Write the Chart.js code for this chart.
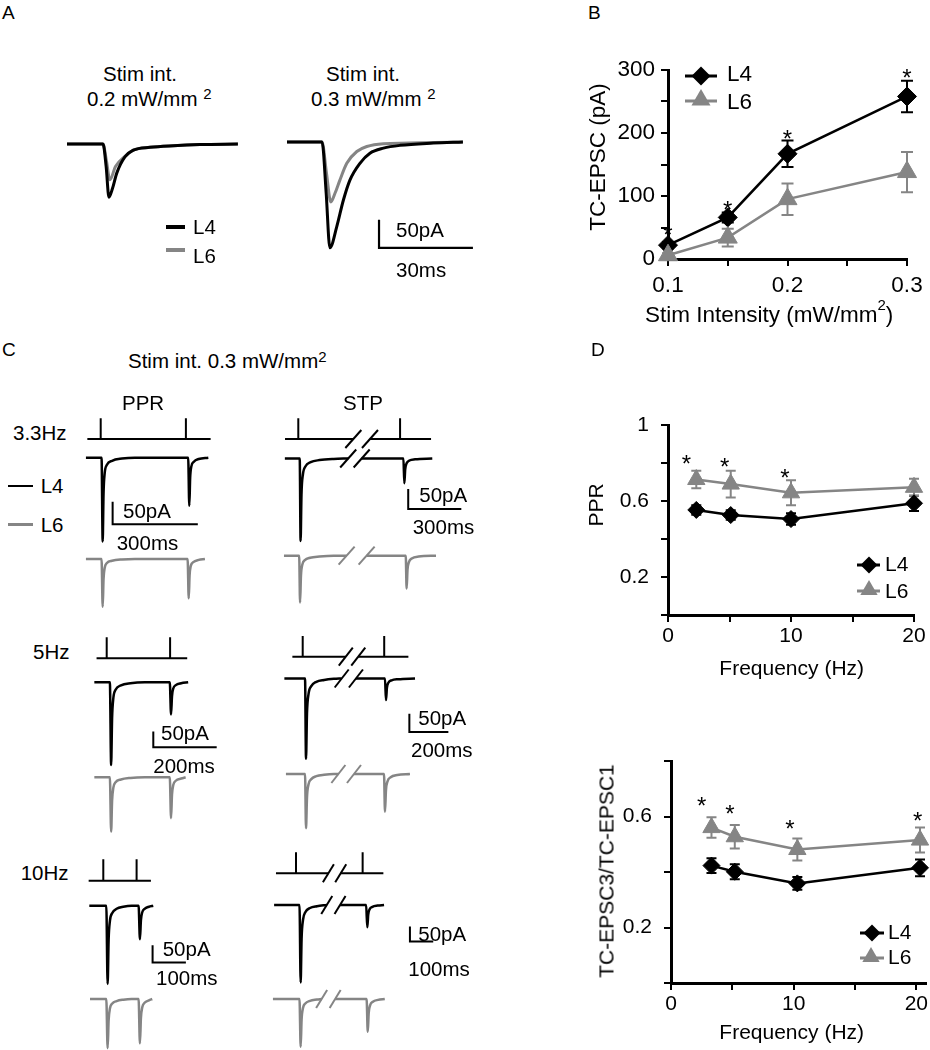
<!DOCTYPE html>
<html lang="en">
<head>
<meta charset="UTF-8">
<title>TC-EPSC in L4 and L6</title>
<script src="https://cdn.jsdelivr.net/npm/chart.js"></script>
<style>
  * { margin: 0; padding: 0; box-sizing: border-box; }
  body { background: #fff; font-family: 'Liberation Sans', Arial, sans-serif; color: #000; }
  #fig { position: relative; width: 930px; height: 1050px; overflow: hidden; background: #fff; }
  #fig canvas { position: absolute; }
  .t { position: absolute; font-size: 20.5px; line-height: 1; white-space: nowrap; transform: translateY(-50%); }
  .t.c { transform: translate(-50%, -50%); }
  .t.r { transform: translate(-50%, -50%) rotate(-90deg); }
  .sup { font-size: 15px; position: relative; }
  .key { position: absolute; }
</style>
</head>
<body>
<div id="fig"></div>
<script>
// ---- Panel B: TC-EPSC amplitude vs stimulation intensity ----
const stimIntensity = [0.1, 0.15, 0.2, 0.3];
const epscL4 = [22, 66, 167, 258];
const epscL4Err = [5, 8, 21, 25];
const epscL6 = [6, 34, 95, 138];
const epscL6Err = [3, 14, 25, 32];
const epscStars = [[0.1, 47], [0.15, 87], [0.2, 200], [0.3, 296]];
const intensityTicks = [0.1, 0.15, 0.2, 0.25, 0.3];
const intensityLabels = [0.1, 0.2, 0.3];
const epscTicks = [0, 50, 100, 150, 200, 250, 300];
const epscLabels = [0, 100, 200, 300];

// ---- Panel D: PPR and EPSC3/EPSC1 vs frequency ----
const pprFreq = [2.3, 5.1, 10, 20];
const pprL4 = [0.553, 0.526, 0.505, 0.588];
const pprL4Err = [0.025, 0.025, 0.03, 0.04];
const pprL6 = [0.713, 0.689, 0.643, 0.672];
const pprL6Err = [0.046, 0.07, 0.066, 0.045];
const pprStars = [[1.5, 0.826], [4.6, 0.81], [9.5, 0.749]];
const stpFreq = [3.3, 5.2, 10.3, 20.3];
const stpL4 = [0.423, 0.401, 0.359, 0.415];
const stpL4Err = [0.027, 0.027, 0.023, 0.03];
const stpL6 = [0.56, 0.527, 0.481, 0.515];
const stpL6Err = [0.037, 0.042, 0.04, 0.045];
const stpStars = [[2.5, 0.659], [4.8, 0.631], [9.7, 0.575], [20.1, 0.605]];
const freqTicks = [0, 5, 10, 15, 20];
const freqLabels = [0, 10, 20];
const pprTicks = [0, 0.2, 0.4, 0.6, 0.8, 1];
const pprLabels = [0.2, 0.6, 1];
const stpTicks = [0, 0.2, 0.4, 0.6, 0.8];
const stpLabels = [0.2, 0.6];

// ---- Panel A: example EPSCs, [ms, pA] ----
const a02L4 = [[0,0],[11.5,0],[12.5,-40],[13.4,-95],[14.5,-80],[15.9,-52],[18.5,-23],[21.2,-11],[26.5,-6],[34,-3],[42.5,-1],[54.6,0]];
const a02L6 = [[0,0],[11.5,0],[12.6,-30],[13.7,-64],[15.5,-40],[18.5,-22],[21.2,-11],[26.5,-6],[34,-3],[42.5,-1],[54.6,0]];
const a03L4 = [[0,0],[11.2,0],[12.5,-90],[13.7,-189],[15.9,-151],[18,-104],[20.1,-68],[23.3,-38],[26.5,-20],[30.8,-11],[36.1,-6],[46.8,-2],[56.2,0]];
const a03L6 = [[0,0],[11.2,0],[12.6,-55],[14,-107],[15.3,-92],[16.9,-68],[19.1,-38],[22.3,-17],[25.5,-8],[30.8,-3],[46.8,-1],[56.2,0]];

// ---- Panel C: trains, [ms, pA], one array per unbroken piece ----
const c33PprL4 = [[[-52,0],[3,0],[7,-188],[10,-80],[14,-35],[22,-16],[40,-7],[75,-2],[120,0],[308,0],[312,-108],[315,-45],[319,-20],[328,-9],[345,-3],[379,0]]];
const c33PprL6 = [[[-52,0],[3,0],[7,-107],[10,-45],[14,-20],[22,-9],[40,-4],[75,-1],[120,0],[306,0],[310,-88],[313,-37],[317,-16],[326,-7],[345,-2],[367,0]]];
const c33StpL4 = [[[-76,0],[8,0],[13,-206],[18,-90],[26,-40],[40,-20],[70,-9],[120,-4],[200,-1],[282,0]], [[358,0],[594,0],[599,-62],[604,-27],[612,-12],[628,-5],[660,-2],[757,0]]];
const c33StpL6 = [[[-81,0],[5,0],[10,-117],[15,-50],[23,-22],[37,-11],[67,-5],[120,-2],[200,0],[273,0]], [[386,0],[607,0],[612,-82],[617,-35],[625,-16],[641,-7],[680,-2],[778,0]]];
const c5PprL4 = [[[-39,0],[10,0],[14,-265],[17,-115],[21,-50],[28,-24],[45,-10],[75,-3],[120,0],[199,0],[203,-103],[206,-44],[210,-20],[218,-9],[235,-3],[257,0]]];
const c5PprL6 = [[[-39,0],[10,0],[14,-174],[17,-75],[21,-33],[28,-16],[45,-7],[75,-2],[120,0],[199,0],[203,-131],[206,-56],[210,-25],[218,-11],[235,-4],[249,0]]];
const c5StpL4 = [[[-94,0],[12,0],[17,-219],[22,-95],[30,-42],[44,-21],[70,-9],[110,-4],[160,-1],[200,0]], [[273,0],[422,0],[427,-59],[432,-25],[440,-11],[456,-5],[490,-2],[576,0]]];
const c5StpL6 = [[[-86,0],[12,0],[17,-148],[22,-64],[30,-28],[44,-14],[70,-6],[110,-2],[160,0],[183,0]], [[263,0],[417,0],[422,-103],[427,-44],[435,-20],[451,-9],[485,-3],[550,0]]];
const c10PprL4 = [[[-42,0],[9,0],[13,-226],[16,-98],[20,-43],[27,-21],[40,-9],[60,-3],[85,0],[106,0],[110,-97],[113,-42],[117,-19],[124,-9],[137,-3],[150,0]]];
const c10PprL6 = [[[-40,0],[9,0],[13,-142],[16,-61],[20,-27],[27,-13],[40,-6],[60,-2],[85,0],[106,0],[110,-128],[113,-55],[117,-24],[124,-11],[137,-4],[147,0]]];
const c10StpL4 = [[[-94,0],[15,0],[20,-258],[24,-112],[30,-50],[40,-24],[60,-10],[90,-4],[132,0]], [[189,0],[301,0],[306,-74],[310,-32],[316,-14],[328,-6],[350,-2],[378,0]]];
const c10StpL6 = [[[-99,0],[15,0],[20,-159],[24,-69],[30,-30],[40,-15],[60,-6],[90,-2],[110,0]], [[168,0],[303,0],[308,-109],[312,-47],[318,-21],[330,-9],[352,-3],[381,0]]];

// light pulses (ms) and the stretches of the stim line that are drawn
const c33PprPulses = [0, 300], c33PprSpan = [[-47, 387]];
const c33StpPulses = [0, 575], c33StpSpan = [[-75, 311], [405, 750]];
const c5PprPulses = [0, 200], c5PprSpan = [[-32, 254]];
const c5StpPulses = [0, 418], c5StpSpan = [[-53, 221], [285, 542]];
const c10PprPulses = [0, 100], c10PprSpan = [[-44, 143]];
const c10StpPulses = [0, 286], c10StpSpan = [[-86, 139], [192, 375]];

// scale bars
const barPA = 50;
const aBarMs = 30;
const cBarMs = [300, 200, 100];

const INK = '#000';
const GREY = '#858585';
const FONT = "'Liberation Sans', Arial, sans-serif";

Chart.defaults.font.family = FONT;
Chart.defaults.color = INK;
Chart.defaults.animation = false;
Chart.defaults.responsive = false;
Chart.defaults.plugins.legend.display = false;
Chart.defaults.plugins.tooltip.enabled = false;

const fig = document.getElementById('fig');

function addCanvas(box) {
  const c = document.createElement('canvas');
  c.width = box[2];
  c.height = box[3];
  c.style.left = box[0] + 'px';
  c.style.top = box[1] + 'px';
  fig.appendChild(c);
  return c;
}

function addText(html, x, cy, cls, size) {
  const d = document.createElement('div');
  d.className = 't' + (cls ? ' ' + cls : '');
  d.innerHTML = html;
  d.style.left = x + 'px';
  d.style.top = cy + 'px';
  if (size) d.style.fontSize = size + 'px';
  fig.appendChild(d);
}

function addKey(color, x, y, w, h) {
  const d = document.createElement('div');
  d.className = 'key';
  Object.assign(d.style, { left: x + 'px', top: (y - h / 2) + 'px', width: w + 'px', height: h + 'px', background: color });
  fig.appendChild(d);
}

function drawMarker(ctx, style, x, y, r) {
  ctx.beginPath();
  if (style === 'rectRot') {
    ctx.moveTo(x, y - r); ctx.lineTo(x + r, y); ctx.lineTo(x, y + r); ctx.lineTo(x - r, y);
  } else {
    ctx.moveTo(x, y - r); ctx.lineTo(x + r * 0.866, y + r * 0.5); ctx.lineTo(x - r * 0.866, y + r * 0.5);
  }
  ctx.closePath();
  ctx.fill();
}

// error bars, significance stars and the inset legend
const markPlugin = {
  id: 'marks',
  beforeDatasetsDraw(chart, args, o) {
    const { ctx, scales: { x, y } } = chart;
    chart.data.datasets.forEach(ds => {
      ctx.save();
      ctx.strokeStyle = ds.borderColor;
      ctx.lineWidth = 2;
      ds.data.forEach((p, i) => {
        const px = x.getPixelForValue(p.x);
        const hi = y.getPixelForValue(p.y + ds.err[i]);
        const lo = y.getPixelForValue(p.y - ds.err[i]);
        ctx.beginPath();
        ctx.moveTo(px, hi); ctx.lineTo(px, lo);
        ctx.moveTo(px - o.cap, hi); ctx.lineTo(px + o.cap, hi);
        ctx.moveTo(px - o.cap, lo); ctx.lineTo(px + o.cap, lo);
        ctx.stroke();
      });
      ctx.restore();
    });
  },
  afterDatasetsDraw(chart, args, o) {
    const { ctx, scales: { x, y } } = chart;
    ctx.save();
    ctx.fillStyle = INK;
    ctx.textAlign = 'center';
    ctx.textBaseline = 'alphabetic';
    ctx.font = o.starSize + 'px ' + FONT;
    o.stars.forEach(([sx, sy]) => {
      ctx.fillText('*', x.getPixelForValue(sx), y.getPixelForValue(sy) + 0.57 * o.starSize);
    });
    o.legend.forEach(k => {
      const ds = chart.data.datasets[k.ds];
      ctx.strokeStyle = ds.borderColor;
      ctx.fillStyle = ds.borderColor;
      ctx.lineWidth = 3;
      ctx.beginPath();
      ctx.moveTo(k.x0, k.ly); ctx.lineTo(k.x1, k.ly);
      ctx.stroke();
      drawMarker(ctx, ds.pointStyle, k.mx, k.my, k.r);
      ctx.fillStyle = INK;
      ctx.textAlign = 'left';
      ctx.textBaseline = 'middle';
      ctx.font = o.fs + 'px ' + FONT;
      ctx.fillText(k.text, k.tx, k.ty);
    });
    ctx.restore();
  }
};

function errChart(box, area, o) {
  const [bl, bt, bw, bh] = box;
  const axis = (ticks, labels, range, pad, fit) => ({
    type: 'linear', min: range[0], max: range[1],
    afterBuildTicks: s => { s.ticks = ticks.map(v => ({ value: v })); },
    afterFit: fit,
    ticks: {
      autoSkip: false, maxRotation: 0, padding: pad, color: INK, font: { size: o.fs },
      callback: v => labels.includes(v) ? String(v) : ''
    },
    grid: { drawOnChartArea: false, tickLength: 7, color: INK, lineWidth: 2 },
    border: { color: INK, width: 3 }
  });
  const datasets = o.series.map(s => ({
    data: o.x.map((xv, i) => ({ x: xv, y: s.y[i] })),
    err: s.err, order: s.order,
    showLine: true, clip: false,
    borderColor: s.color, borderWidth: 2.5,
    pointStyle: s.marker, pointRadius: s.r, pointHoverRadius: s.r,
    pointBackgroundColor: s.color, pointBorderColor: s.color, pointBorderWidth: 1
  }));
  // legend positions are given on the page; convert to canvas coordinates
  const legend = o.legend.map(k => ({
    ds: k.ds, text: k.text, r: k.r,
    x0: k.line[0] - bl, x1: k.line[1] - bl, ly: k.line[2] - bt,
    mx: k.mark[0] - bl, my: k.mark[1] - bt,
    tx: k.label[0] - bl, ty: k.label[1] - bt
  }));
  return new Chart(addCanvas(box), {
    type: 'scatter',
    data: { datasets },
    options: {
      layout: { autoPadding: false, padding: { left: 0, top: area[1] - bt, right: bl + bw - area[2], bottom: 0 } },
      scales: {
        x: axis(o.xTicks, o.xLabels, o.xRange, o.xPad, s => { s.height = bt + bh - area[3]; }),
        y: axis(o.yTicks, o.yLabels, o.yRange, o.yPad, s => { s.width = area[0] - bl; })
      },
      plugins: { marks: { stars: o.stars, legend, cap: o.cap, fs: o.fs, starSize: o.starSize } }
    },
    plugins: [markPlugin]
  });
}

// break marks "//" where a trace or stim line is interrupted
const slashPlugin = {
  id: 'slashes',
  afterDatasetsDraw(chart, args, o) {
    const ctx = chart.ctx;
    const x = chart.scales.x;
    chart.data.datasets.forEach(ds => {
      if (!ds.breaks) return;
      const y = chart.scales[ds.yAxisID];
      ctx.save();
      ctx.strokeStyle = ds.borderColor;
      ctx.lineWidth = 2;
      ds.breaks.forEach(t => {
        const px = x.getPixelForValue(t), py = y.getPixelForValue(0);
        ctx.beginPath();
        ctx.moveTo(px - o.dx, py + o.dy);
        ctx.lineTo(px + o.dx, py - o.dy);
        ctx.stroke();
      });
      ctx.restore();
    });
  }
};

function toPoints(segs) {
  const out = [];
  segs.forEach((seg, i) => {
    if (i > 0) out.push({ x: (segs[i - 1][segs[i - 1].length - 1][0] + seg[0][0]) / 2, y: null });
    seg.forEach(p => out.push({ x: p[0], y: p[1] }));
  });
  return out;
}

function breakTimes(segs) {
  const b = [];
  for (let i = 1; i < segs.length; i++) b.push(segs[i - 1][segs[i - 1].length - 1][0], segs[i][0][0]);
  return b;
}

function stimSegs(pulses, span) {
  return span.map(([a, b]) => {
    const pts = [[a, 0]];
    pulses.filter(p => p > a && p < b).forEach(p => pts.push([p, 0], [p, 1], [p, 0]));
    pts.push([b, 0]);
    return pts;
  });
}

function scaleBar(corner, pA, ms) {
  return [[[corner[0], corner[1] + pA], corner, [corner[0] + ms, corner[1]]]];
}

// lay: box on the page, t0 = page x of t=0, kx = px per ms, y axes as [page y of 0, px per unit]
function traceChart(lay, sets, slash) {
  const [bl, bt, bw, bh] = lay.box;
  const scales = { x: { type: 'linear', display: false, min: (bl - lay.t0) / lay.kx, max: (bl + bw - lay.t0) / lay.kx } };
  Object.entries(lay.y).forEach(([id, [y0, k]]) => {
    const max = (y0 - bt) / k;
    scales[id] = { type: 'linear', display: false, min: max - bh / k, max };
  });
  const datasets = sets.map(s => ({
    data: toPoints(s.segs),
    breaks: s.segs.length > 1 ? breakTimes(s.segs) : null,
    yAxisID: s.axis, borderColor: s.color, borderWidth: s.width,
    showLine: true, pointRadius: 0, pointHoverRadius: 0, spanGaps: false, clip: false,
    cubicInterpolationMode: s.smooth ? 'monotone' : 'default', tension: 0
  }));
  return new Chart(addCanvas(lay.box), {
    type: 'scatter',
    data: { datasets },
    options: {
      layout: { autoPadding: false, padding: 0 },
      scales,
      plugins: { slashes: { dx: slash[0], dy: slash[1] } }
    },
    plugins: [slashPlugin]
  });
}

// ---------------- Panel A ----------------
traceChart({ box: [60, 118, 190, 100], t0: 67, kx: 3.13, y: { y: [144, 0.56] } }, [
  { segs: [a02L4], axis: 'y', color: INK, width: 3, smooth: true },
  { segs: [a02L6], axis: 'y', color: GREY, width: 3, smooth: true }
], [0, 0]);
traceChart({ box: [280, 118, 200, 142], t0: 287, kx: 3.13, y: { y: [142, 0.56] } }, [
  { segs: [a03L4], axis: 'y', color: INK, width: 3, smooth: true },
  { segs: [a03L6], axis: 'y', color: GREY, width: 3, smooth: true },
  { segs: scaleBar([29.4, -189], barPA, aBarMs), axis: 'y', color: INK, width: 2.2 }
], [0, 0]);

// ---------------- Panel C ----------------
const cells = [
  { l4: c33PprL4, l6: c33PprL6, pulses: c33PprPulses, span: c33PprSpan, ms: cBarMs[0],
    lay: { box: [80, 410, 142, 204], t0: 100.7, kx: 0.284, y: { stim: [439, 20.7], l4: [457.7, 0.446], l6: [559, 0.446] } }, bar: [42, -149], slash: [8, 9] },
  { l4: c33StpL4, l6: c33StpL6, pulses: c33StpPulses, span: c33StpSpan, ms: cBarMs[0],
    lay: { box: [278, 410, 196, 204], t0: 298.3, kx: 0.177, y: { stim: [439, 20.7], l4: [458.5, 0.4], l6: [555.7, 0.4] } }, bar: [621, -126], slash: [8, 9] },
  { l4: c5PprL4, l6: c5PprL6, pulses: c5PprPulses, span: c5PprSpan, ms: cBarMs[1],
    lay: { box: [88, 628, 136, 210], t0: 106.7, kx: 0.317, y: { stim: [658.3, 21], l4: [682.3, 0.312], l6: [777.3, 0.312] } }, bar: [147, -208], slash: [7, 9] },
  { l4: c5StpL4, l6: c5StpL6, pulses: c5StpPulses, span: c5StpSpan, ms: cBarMs[1],
    lay: { box: [278, 628, 176, 210], t0: 302.7, kx: 0.195, y: { stim: [656.7, 20.7], l4: [678.5, 0.366], l6: [774, 0.366] } }, bar: [547, -146], slash: [7, 9] },
  { l4: c10PprL4, l6: c10PprL6, pulses: c10PprPulses, span: c10PprSpan, ms: cBarMs[2],
    lay: { box: [82, 846, 110, 204], t0: 103.3, kx: 0.333, y: { stim: [880.7, 21.4], l4: [905.7, 0.346], l6: [999, 0.346] } }, bar: [148, -164], slash: [5.5, 9] },
  { l4: c10StpL4, l6: c10StpL6, pulses: c10StpPulses, span: c10StpSpan, ms: cBarMs[2],
    lay: { box: [265, 843, 180, 207], t0: 296, kx: 0.233, y: { stim: [873.3, 21], l4: [905, 0.3], l6: [999, 0.3] } }, bar: [489, -122], slash: [5.5, 9] }
];
cells.forEach(c => {
  traceChart(c.lay, [
    { segs: stimSegs(c.pulses, c.span), axis: 'stim', color: INK, width: 2 },
    { segs: c.l4, axis: 'l4', color: INK, width: 2.5, smooth: true },
    { segs: c.l6, axis: 'l6', color: GREY, width: 2.5, smooth: true },
    { segs: scaleBar(c.bar, barPA, c.ms), axis: 'l4', color: INK, width: 2 }
  ], c.slash);
});

// ---------------- Panel B ----------------
errChart([560, 40, 370, 305], [668, 70, 907, 259], {
  x: stimIntensity, xRange: [0.1, 0.3], xTicks: intensityTicks, xLabels: intensityLabels, xPad: 6,
  yRange: [0, 300], yTicks: epscTicks, yLabels: epscLabels, yPad: 6,
  fs: 22.5, cap: 6, starSize: 24, stars: epscStars,
  series: [
    { y: epscL4, err: epscL4Err, color: INK, marker: 'rectRot', r: 9.5, order: 1 },
    { y: epscL6, err: epscL6Err, color: GREY, marker: 'triangle', r: 11, order: 0 }
  ],
  legend: [
    { ds: 0, text: 'L4', r: 9.5, line: [685, 717, 76], mark: [701, 76], label: [727, 75] },
    { ds: 1, text: 'L6', r: 11, line: [685, 717, 101], mark: [701, 100], label: [727, 103] }
  ]
});

// ---------------- Panel D ----------------
errChart([560, 395, 370, 300], [668, 425, 914, 615], {
  x: pprFreq, xRange: [0, 20], xTicks: freqTicks, xLabels: freqLabels, xPad: 2,
  yRange: [0, 1], yTicks: pprTicks, yLabels: pprLabels, yPad: 12,
  fs: 21, cap: 5, starSize: 24, stars: pprStars,
  series: [
    { y: pprL4, err: pprL4Err, color: INK, marker: 'rectRot', r: 8.5, order: 1 },
    { y: pprL6, err: pprL6Err, color: GREY, marker: 'triangle', r: 10, order: 0 }
  ],
  legend: [
    { ds: 0, text: 'L4', r: 8.5, line: [857, 880, 565], mark: [869, 565], label: [885, 565] },
    { ds: 1, text: 'L6', r: 10, line: [857, 880, 591], mark: [869, 590], label: [885, 592] }
  ]
});
errChart([560, 730, 370, 320], [671, 761, 930, 983], {
  x: stpFreq, xRange: [0, 20.8], xTicks: freqTicks, xLabels: freqLabels, xPad: 2,
  yRange: [0, 0.8], yTicks: stpTicks, yLabels: stpLabels, yPad: 12,
  fs: 21, cap: 5, starSize: 24, stars: stpStars,
  series: [
    { y: stpL4, err: stpL4Err, color: INK, marker: 'rectRot', r: 8.5, order: 1 },
    { y: stpL6, err: stpL6Err, color: GREY, marker: 'triangle', r: 10, order: 0 }
  ],
  legend: [
    { ds: 0, text: 'L4', r: 8.5, line: [860, 884, 933], mark: [872, 933], label: [888, 933] },
    { ds: 1, text: 'L6', r: 10, line: [860, 884, 958], mark: [871, 957], label: [888, 958] }
  ]
});

// ---------------- text ----------------
addText('A', 2, 12, '', 19);
addText('B', 588, 12, '', 19);
addText('C', 2, 349, '', 19);
addText('D', 591, 349, '', 19);

addText('Stim int.', 103, 74);
addText('0.2 mW/mm <span class="sup" style="top:-7px">2</span>', 87, 99);
addText('Stim int.', 326, 74);
addText('0.3 mW/mm <span class="sup" style="top:-7px">2</span>', 311, 99);
addKey(INK, 166, 227, 19, 4);
addKey(GREY, 166, 250, 19, 4);
addText('L4', 193, 227);
addText('L6', 193, 256);
addText('50pA', 396, 230);
addText('30ms', 396, 270);

addText('Stim int. 0.3 mW/mm<span class="sup" style="top:-6px">2</span>', 128, 360.5);
addText('PPR', 122, 403);
addText('STP', 343, 403);
addText('3.3Hz', 13, 432.5);
addText('5Hz', 33, 652.3);
addText('10Hz', 20.7, 873.3);
addKey(INK, 8, 486, 25, 2.5);
addKey(GREY, 8, 524.5, 25, 2.5);
addText('L4', 40.7, 486);
addText('L6', 40.7, 525);
addText('50pA', 123, 510.7);
addText('300ms', 116.7, 542.7);
addText('50pA', 419.3, 495);
addText('300ms', 412.7, 526.7);
addText('50pA', 161, 733.3);
addText('200ms', 153.3, 765.7);
addText('50pA', 418.3, 717.5);
addText('200ms', 411, 750);
addText('50pA', 162.7, 949);
addText('100ms', 156, 978.3);
addText('50pA', 418.3, 934);
addText('100ms', 408.3, 969);

addText('TC-EPSC (pA)', 598, 156.5, 'r', 22.5);
addText('Stim Intensity (mW/mm<span class="sup" style="top:-12px">2</span>)', 645, 315, '', 22.5);
addText('PPR', 595, 505, 'r', 21);
addText('Frequency (Hz)', 791.7, 666.5, 'c', 21);
addText('TC-EPSC3/TC-EPSC1', 605.5, 870.5, 'r', 21);
addText('Frequency (Hz)', 791.7, 1031, 'c', 21);
</script>
</body>
</html>
